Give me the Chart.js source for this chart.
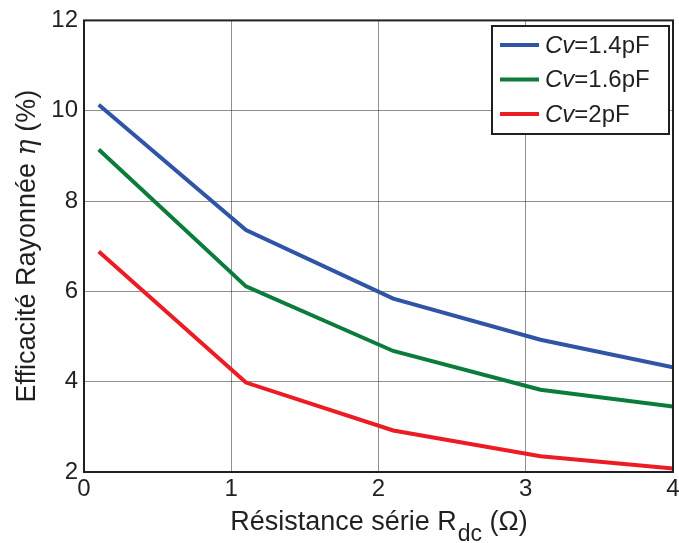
<!DOCTYPE html>
<html>
<head>
<meta charset="utf-8">
<script src="https://cdn.jsdelivr.net/npm/chart.js@4"></script>
<style>
    html, body { margin: 0; padding: 0; background: #fff; }
    #wrap { width: 679px; height: 543px; }
</style>
</head>
<body>
<div id="wrap"><canvas id="effChart" width="679" height="543"></canvas></div>
<script>
// Data
const resistance = [0.1, 1.1, 2.1, 3.1, 4.0];
const cv14 = [10.13, 7.36, 5.84, 4.93, 4.32];
const cv16 = [9.14, 6.11, 4.68, 3.82, 3.45];
const cv20 = [6.88, 3.98, 2.92, 2.35, 2.08];
const seriesLabels = ['Cv=1.4pF', 'Cv=1.6pF', 'Cv=2pF'];
const xTicks = [0, 1, 2, 3, 4];
const yTicks = [2, 4, 6, 8, 10, 12];

const FONT = '"Liberation Sans", Arial, Helvetica, sans-serif';
const colors = ['#3054a6', '#0c7c3b', '#ec1c24'];

function toPoints(ys) {
    return resistance.map((r, i) => ({ x: r, y: ys[i] }));
}

// Box, axis titles and legend (MATLAB style)
const decorPlugin = {
    id: 'decor',
    afterDatasetsDraw(chart) {
        const { ctx, chartArea: a } = chart;
        ctx.save();

        // axes box
        ctx.strokeStyle = '#231f20';
        ctx.lineWidth = 2;
        ctx.strokeRect(a.left, a.top, a.right - a.left, a.bottom - a.top);

        // x title with subscript
        ctx.fillStyle = '#231f20';
        ctx.textBaseline = 'alphabetic';
        ctx.textAlign = 'left';
        const main = 'Résistance série R';
        const sub = 'dc';
        const tail = ' (Ω)';
        ctx.font = '27px ' + FONT;
        const wMain = ctx.measureText(main).width;
        const wTail = ctx.measureText(tail).width;
        ctx.font = '23px ' + FONT;
        const wSub = ctx.measureText(sub).width;
        let x0 = (a.left + a.right) / 2 - (wMain + wSub + wTail) / 2;
        const yb = 530;
        ctx.font = '27px ' + FONT;
        ctx.fillText(main, x0, yb);
        ctx.font = '23px ' + FONT;
        ctx.fillText(sub, x0 + wMain + 1, yb + 11);
        ctx.font = '27px ' + FONT;
        ctx.fillText(tail, x0 + wMain + wSub + 1, yb);

        // y title, rotated, eta in italic
        const p1 = 'Efficacité Rayonnée ';
        const p2 = 'η';
        const p3 = ' (%)';
        ctx.font = '27px ' + FONT;
        const w1 = ctx.measureText(p1).width;
        const w3 = ctx.measureText(p3).width;
        ctx.font = 'italic 27px "DejaVu Serif", serif';
        const w2 = ctx.measureText(p2).width;
        ctx.translate(35, (a.top + a.bottom) / 2);
        ctx.rotate(-Math.PI / 2);
        let sx = -(w1 + w2 + w3) / 2;
        ctx.font = '27px ' + FONT;
        ctx.fillText(p1, sx, 0);
        ctx.font = 'italic 27px "DejaVu Serif", serif';
        ctx.fillText(p2, sx + w1, 0);
        ctx.font = '27px ' + FONT;
        ctx.fillText(p3, sx + w1 + w2, 0);
        ctx.setTransform(1, 0, 0, 1, 0, 0);

        // legend box
        const lx = 492, ly = 26, lw = 177, lh = 108;
        ctx.fillStyle = '#fff';
        ctx.fillRect(lx, ly, lw, lh);
        ctx.strokeStyle = '#231f20';
        ctx.lineWidth = 2;
        ctx.strokeRect(lx, ly, lw, lh);
        chart.data.datasets.forEach((ds, i) => {
            const yy = 45 + i * 34.5;
            ctx.strokeStyle = ds.borderColor;
            ctx.lineWidth = 4;
            ctx.beginPath();
            ctx.moveTo(500, yy);
            ctx.lineTo(539, yy);
            ctx.stroke();
            const parts = ds.label.split('=');
            ctx.fillStyle = '#231f20';
            ctx.textBaseline = 'middle';
            ctx.font = 'italic 24px ' + FONT;
            ctx.fillText(parts[0], 545, yy + 1);
            const wi = ctx.measureText(parts[0]).width;
            ctx.font = '24px ' + FONT;
            ctx.fillText('=' + parts[1], 545 + wi, yy + 1);
        });
        ctx.restore();
    }
};

const effChart = new Chart(document.getElementById('effChart'), {
    type: 'line',
    data: {
        datasets: [
            { label: seriesLabels[0], data: toPoints(cv14), borderColor: colors[0] },
            { label: seriesLabels[1], data: toPoints(cv16), borderColor: colors[1] },
            { label: seriesLabels[2], data: toPoints(cv20), borderColor: colors[2] }
        ].map(ds => Object.assign(ds, {
            borderWidth: 4,
            pointRadius: 0,
            tension: 0,
            fill: false
        }))
    },
    options: {
        responsive: false,
        animation: false,
        devicePixelRatio: 1,
        layout: { padding: { left: 0, top: 20, right: 0, bottom: 0 } },
        plugins: {
            legend: { display: false },
            tooltip: { enabled: false }
        },
        scales: {
            x: {
                type: 'linear',
                min: 0,
                max: 4,
                afterBuildTicks: s => { s.ticks = xTicks.map(v => ({ value: v })); },
                afterFit: s => {
                    s.height = 71;
                    s.paddingRight = 6;
                },
                grid: { color: 'rgba(35,31,32,0.5)', lineWidth: 1, drawTicks: false },
                border: { display: false },
                ticks: {
                    padding: 3,
                    color: '#231f20',
                    font: { family: FONT, size: 24 }
                }
            },
            y: {
                min: 2,
                max: 12,
                afterBuildTicks: s => { s.ticks = yTicks.map(v => ({ value: v })); },
                afterFit: s => { s.width = 84; },
                grid: { color: 'rgba(35,31,32,0.5)', lineWidth: 1, drawTicks: false },
                border: { display: false },
                ticks: {
                    padding: 6,
                    color: '#231f20',
                    font: { family: FONT, size: 24 }
                }
            }
        }
    },
    plugins: [decorPlugin]
});
</script>
</body>
</html>
